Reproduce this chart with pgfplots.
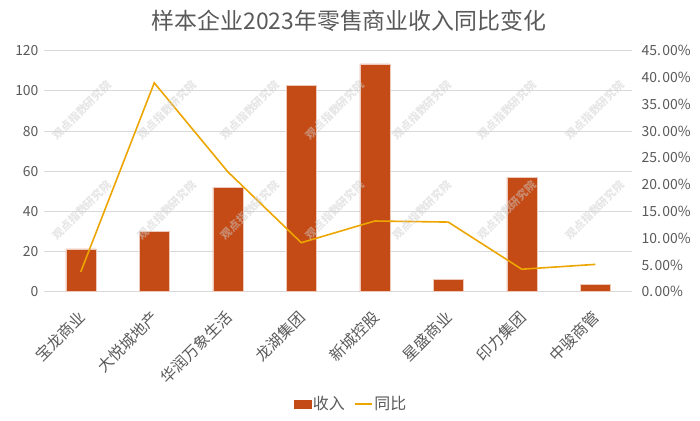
\documentclass[border=0pt]{standalone}
\usepackage{fontspec}
\setmainfont{Noto Sans CJK SC}
\usepackage{pgfplots}
\pgfplotsset{compat=1.18}
\definecolor{barc}{RGB}{197,75,22}
\definecolor{linec}{RGB}{237,165,0}
\definecolor{txt}{RGB}{89,89,89}
\definecolor{gridc}{RGB}{217,217,217}
\definecolor{wm}{RGB}{205,205,205}
\pgfplotstableread{
x rev yoy
0 21.3 3.7
1 30.1 39.0
2 51.8 22.4
3 102.9 9.15
4 113.4 13.2
5 6.2 13.0
6 57.0 4.2
7 3.8 5.1
}\datatab
\begin{document}
\begin{tikzpicture}[x=1bp,y=1bp]
\useasboundingbox (0,0) rectangle (700,420);
\node[text=txt,font=\fontsize{23}{23}\selectfont] at (349,399) {样本企业2023年零售商业收入同比变化};
\begin{axis}[
  at={(44bp,128.3bp)}, anchor=south west,
  scale only axis, width=588bp, height=241bp,
  xmin=-0.5, xmax=7.5, ymin=0, ymax=120,
  ytick={0,20,...,120},
  xtick={0,...,7},
  xticklabels={宝龙商业,大悦城地产,华润万象生活,龙湖集团,新城控股,星盛商业,印力集团,中骏商管},
  x tick label style={xshift=-4bp, yshift=-13bp, rotate=45, anchor=north east, font=\fontsize{15.5}{15.5}\selectfont, text=txt},
  y tick label style={font=\fontsize{14}{14}\selectfont, text=txt, xshift=-2bp},
  /pgf/number format/assume math mode=true,
  axis line style={draw=none},
  tick style={draw=none},
  ymajorgrids, grid style={gridc, line width=0.8bp},
]
\addplot[ybar, bar width=30bp, fill=barc, draw=white!70!barc, line width=0.5bp] table[x=x,y=rev]{\datatab};
\end{axis}
\begin{axis}[
  at={(44bp,128.3bp)}, anchor=south west,
  scale only axis, width=588bp, height=241bp,
  xmin=-0.5, xmax=7.5, ymin=0, ymax=45,
  axis x line=none,
  axis y line*=right,
  ytick={0,5,...,45},
  yticklabel={\pgfmathparse{int(\tick)}\pgfmathresult.\kern1.5bp00\%},
  y tick label style={font=\fontsize{14}{14}\selectfont, text=txt, xshift=6bp},
  /pgf/number format/assume math mode=true,
  axis line style={draw=none},
  tick style={draw=none},
  legend style={at={(0.522,-0.465)}, anchor=center, draw=none, fill=none,
    legend columns=2, font=\fontsize{16}{16}\selectfont, text=txt,
    /tikz/every even column/.append style={column sep=7bp}},
  legend cell align=left,
]
\addlegendimage{legend image code/.code={\fill[barc] (0bp,-4bp) rectangle (17bp,4bp);}}
\addlegendentry{收入}
\addplot[linec, line width=1.6bp, mark=none,
  legend image code/.code={\draw[linec, line width=1.6bp] (0bp,0bp) -- (17bp,0bp);}] table[x=x,y=yoy]{\datatab};
\addlegendentry{同比}
\end{axis}
\foreach \wx in {82,167,250,335,422,507,595}{
  \foreach \wy in {310,210}{
    \node[rotate=45, text=wm, opacity=0.5, font=\fontsize{11}{11}\selectfont\bfseries] at (\wx,\wy) {观点指数研究院};
  }
}
\end{tikzpicture}
\end{document}
